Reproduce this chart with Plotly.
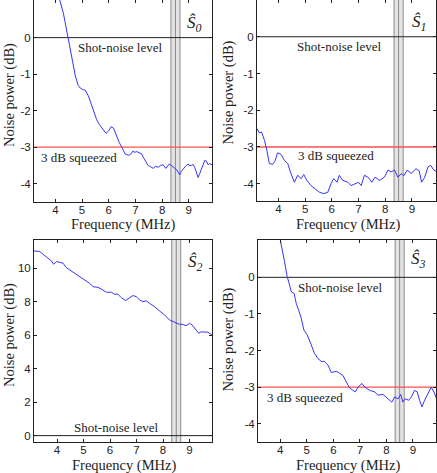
import plotly.graph_objects as go

# ---------------- data ----------------
s0_freq = [4.05, 4.16, 4.3, 4.42, 4.5, 4.6, 4.75, 4.85, 4.93, 5.02, 5.12, 5.24, 5.35, 5.45, 5.55, 5.65,
           5.78, 5.9, 6.0, 6.09, 6.18, 6.25, 6.32, 6.4, 6.49, 6.61, 6.74, 6.82, 6.9, 6.98, 7.05, 7.14,
           7.23, 7.29, 7.38, 7.48, 7.58, 7.67, 7.76, 7.85, 7.95, 8.04, 8.14, 8.21, 8.27, 8.35, 8.41,
           8.48, 8.54, 8.6, 8.66, 8.72, 8.79, 8.88, 8.97, 9.04, 9.1, 9.16, 9.22, 9.3, 9.35, 9.41, 9.47,
           9.55, 9.6, 9.66, 9.72, 9.78, 9.87]
s0_power = [1.6, 1.04, 0.67, 0.2, -0.05, -0.4, -1.05, -1.3, -1.38, -1.42, -1.44, -1.6, -1.85, -2.05,
            -2.25, -2.38, -2.5, -2.62, -2.55, -2.44, -2.48, -2.62, -2.76, -2.88, -3.0, -3.18, -3.22,
            -3.2, -3.11, -3.14, -3.12, -3.15, -3.18, -3.27, -3.38, -3.5, -3.54, -3.58, -3.52, -3.55,
            -3.5, -3.48, -3.58, -3.52, -3.46, -3.5, -3.55, -3.58, -3.61, -3.68, -3.76, -3.66, -3.59,
            -3.52, -3.46, -3.5, -3.5, -3.47, -3.55, -3.7, -3.83, -3.72, -3.61, -3.45, -3.36, -3.38,
            -3.48, -3.45, -3.48]

s1_freq = [3.2, 3.29, 3.37, 3.48, 3.57, 3.66, 3.79, 3.87, 3.97, 4.1, 4.22, 4.35, 4.45, 4.6, 4.72,
           4.85, 4.95, 5.07, 5.22, 5.41, 5.53, 5.7, 5.85, 5.97, 6.07, 6.2, 6.28, 6.41, 6.6, 6.72,
           6.85, 7.0, 7.1, 7.22, 7.35, 7.5, 7.62, 7.79, 7.97, 8.1, 8.22, 8.35, 8.47, 8.6, 8.7, 8.82,
           8.97, 9.15, 9.27, 9.36, 9.48, 9.6, 9.7, 9.82, 9.9]
s1_power = [-2.5, -2.62, -2.59, -2.82, -3.09, -3.45, -3.47, -3.39, -3.16, -3.2, -3.36, -3.45, -3.68,
            -3.96, -3.77, -3.86, -3.75, -3.91, -4.05, -4.16, -4.23, -4.27, -4.23, -4.0, -3.86, -3.96,
            -3.77, -3.91, -3.96, -4.05, -4.0, -3.96, -4.05, -3.77, -3.82, -3.96, -3.82, -3.91, -3.82,
            -3.63, -3.68, -3.63, -3.82, -3.73, -3.78, -3.63, -3.72, -3.59, -3.65, -3.96, -3.82, -3.54,
            -3.5, -3.63, -3.66]

s2_freq = [3.12, 3.28, 3.35, 3.5, 3.66, 3.79, 3.87, 3.97, 4.1, 4.23, 4.35, 4.48, 4.67, 4.85, 5.04,
           5.23, 5.36, 5.55, 5.67, 5.86, 6.05, 6.17, 6.3, 6.42, 6.59, 6.74, 6.86, 6.99, 7.12, 7.24,
           7.37, 7.49, 7.68, 7.87, 8.06, 8.25, 8.43, 8.62, 8.75, 8.87, 9.0, 9.1, 9.25, 9.35, 9.44,
           9.57, 9.69, 9.84]
s2_power = [11.04, 11.04, 11.0, 10.8, 10.6, 10.44, 10.24, 10.4, 10.36, 10.3, 10.04, 9.9, 9.7, 9.5,
            9.3, 9.1, 8.9, 8.86, 8.76, 8.57, 8.57, 8.45, 8.45, 8.25, 8.07, 8.21, 8.37, 8.31, 8.11,
            8.01, 8.05, 7.91, 7.71, 7.45, 7.21, 6.91, 6.77, 6.65, 6.65, 6.57, 6.71, 6.61, 6.31, 6.12,
            6.2, 6.2, 6.18, 6.02]

s3_freq = [3.95, 4.0, 4.16, 4.26, 4.35, 4.41, 4.52, 4.6, 4.69, 4.79, 4.89, 5.02, 5.17, 5.29, 5.42,
           5.57, 5.65, 5.8, 5.92, 6.11, 6.2, 6.36, 6.49, 6.61, 6.74, 6.83, 6.93, 7.08, 7.18, 7.37,
           7.56, 7.68, 7.87, 8.0, 8.12, 8.21, 8.31, 8.44, 8.54, 8.62, 8.71, 8.84, 8.94, 9.06, 9.16,
           9.25, 9.34, 9.44, 9.57, 9.69, 9.79, 9.88]
s3_power = [1.5, 1.02, 0.43, 0.02, -0.21, -0.39, -0.44, -0.71, -0.89, -1.12, -1.44, -1.58, -1.85,
            -2.08, -2.22, -2.31, -2.29, -2.4, -2.6, -2.57, -2.6, -2.68, -2.86, -3.02, -3.09, -3.13,
            -3.0, -2.9, -3.0, -3.09, -3.13, -3.22, -3.2, -3.27, -3.36, -3.41, -3.27, -3.32, -3.2,
            -3.41, -3.32, -3.36, -3.27, -3.09, -3.13, -3.36, -3.54, -3.36, -3.18, -3.0, -3.13, -3.3]

x_ticks = [4, 5, 6, 7, 8, 9]
x_ticktext = ["4", "5", "6", "7", "8", "9"]
y_ticks_sq = [-4, -3, -2, -1, 0]
y_ticktext_sq = ["-4", "-3", "-2", "-1", "0"]
y_ticks_s2 = [0, 2, 4, 6, 8, 10]
y_ticktext_s2 = ["0", "2", "4", "6", "8", "10"]

band_lo, band_mid, band_hi = 8.33, 8.5, 8.67
shot_noise_level = 0
squeeze_level = -3

panel_labels = ["<i>Ŝ<sub>0</sub></i>", "<i>Ŝ<sub>1</sub></i>", "<i>Ŝ<sub>2</sub></i>", "<i>Ŝ<sub>3</sub></i>"]

# ---------------- layout ----------------
W, H = 437, 473
SERIF = "Liberation Serif"
SANS = "Liberation Sans"
BLUE = "#3434ff"

panels = [
    dict(f=s0_freq, p=s0_power, xd=[34, 212], yd=[0, 202], xr=[3.2, 9.87], yr=[-4.5, 1.03],
         yt=y_ticks_sq, ytt=y_ticktext_sq, squeeze=True,
         shot_pos=(6.43, -0.27), sq_pos=(4.9, -3.28), lab=(9.22, 0.36)),
    dict(f=s1_freq, p=s1_power, xd=[257, 436], yd=[0, 201], xr=[3.2, 9.9], yr=[-4.47, 1.0],
         yt=y_ticks_sq, ytt=y_ticktext_sq, squeeze=True,
         shot_pos=(6.3, -0.27), sq_pos=(6.15, -3.24), lab=(9.25, 0.38)),
    dict(f=s2_freq, p=s2_power, xd=[34, 212], yd=[240, 442], xr=[3.13, 9.85], yr=[-0.38, 11.69],
         yt=y_ticks_s2, ytt=y_ticktext_s2, squeeze=False,
         shot_pos=(6.23, 0.5), sq_pos=None, lab=(9.23, 10.3)),
    dict(f=s3_freq, p=s3_power, xd=[258, 436], yd=[240, 442], xr=[3.16, 9.87], yr=[-4.5, 1.02],
         yt=y_ticks_sq, ytt=y_ticktext_sq, squeeze=True,
         shot_pos=(6.26, -0.27), sq_pos=(4.95, -3.29), lab=(9.2, 0.46)),
]

fig = go.Figure()
shapes = []
annotations = []
layout = {}

for i, pn in enumerate(panels):
    n = "" if i == 0 else str(i + 1)
    xa, ya = "x" + n, "y" + n
    fig.add_trace(go.Scatter(x=pn["f"], y=pn["p"], mode="lines", xaxis=xa, yaxis=ya,
                             line=dict(color=BLUE, width=1), showlegend=False, hoverinfo="skip"))
    axis_common = dict(showline=True, linecolor="#222", linewidth=1, mirror="ticks", ticks="inside",
                       ticklen=3, tickcolor="#222", showgrid=False, zeroline=False,
                       tickfont=dict(family=SANS, size=11.5, color="#222"), tickmode="array")
    layout["xaxis" + n] = dict(axis_common, domain=[pn["xd"][0] / W, pn["xd"][1] / W], range=pn["xr"],
                               anchor=ya, tickvals=x_ticks, ticktext=x_ticktext, ticklabelstandoff=-3)
    layout["yaxis" + n] = dict(axis_common, domain=[1 - pn["yd"][1] / H, 1 - pn["yd"][0] / H],
                               range=pn["yr"], anchor=xa, tickvals=pn["yt"], ticktext=pn["ytt"])
    # band
    shapes.append(dict(type="rect", xref=xa, yref=ya + " domain", x0=band_lo, x1=band_hi, y0=0, y1=1,
                       fillcolor="#e4e4e4", line=dict(width=0), layer="below"))
    for bx in (band_lo, band_mid, band_hi):
        shapes.append(dict(type="line", xref=xa, yref=ya + " domain", x0=bx, x1=bx, y0=0, y1=1,
                           line=dict(color="#8a8a8a", width=1), layer="below"))
    shapes.append(dict(type="line", xref=xa + " domain", yref=ya, x0=0, x1=1, y0=shot_noise_level,
                       y1=shot_noise_level, line=dict(color="#222", width=1), layer="below"))
    if pn["squeeze"]:
        shapes.append(dict(type="line", xref=xa + " domain", yref=ya, x0=0, x1=1, y0=squeeze_level,
                           y1=squeeze_level, line=dict(color="#ff5050", width=1.3), layer="below"))
        sx, sy = pn["sq_pos"]
        annotations.append(dict(x=sx, y=sy, xref=xa, yref=ya, text="3 dB squeezed", showarrow=False,
                                font=dict(family=SERIF, size=13, color="#222"),
                                xanchor="center", yanchor="middle"))
    tx, ty = pn["shot_pos"]
    annotations.append(dict(x=tx, y=ty, xref=xa, yref=ya, text="Shot-noise level", showarrow=False,
                            font=dict(family=SERIF, size=13, color="#222"),
                            xanchor="center", yanchor="middle"))
    lx, ly = pn["lab"]
    annotations.append(dict(x=lx, y=ly, xref=xa, yref=ya, text=panel_labels[i], showarrow=False,
                            font=dict(family=SERIF, size=17, color="#222"),
                            xanchor="center", yanchor="middle"))

# axis titles
xt_pos = [(123, 224), (347.7, 224), (124, 465), (348, 465)]
yt_pos = [(9, 95), (227.5, 93), (9, 335), (227.5, 340)]
for (px, py) in xt_pos:
    annotations.append(dict(x=px / W, y=1 - py / H, xref="paper", yref="paper", text="Frequency (MHz)",
                            showarrow=False, font=dict(family=SERIF, size=14.5, color="#222"),
                            xanchor="center", yanchor="middle"))
for (px, py) in yt_pos:
    annotations.append(dict(x=px / W, y=1 - py / H, xref="paper", yref="paper", text="Noise power (dB)",
                            showarrow=False, textangle=-90, font=dict(family=SERIF, size=14.5, color="#222"),
                            xanchor="center", yanchor="middle"))

fig.update_layout(width=W, height=H, margin=dict(l=0, r=0, t=0, b=0), paper_bgcolor="white",
                  plot_bgcolor="white", shapes=shapes, annotations=annotations, **layout)

fig.write_html("out.html", config={"displayModeBar": False},
               post_script="document.body.style.margin='0';document.body.style.padding='0';"
                           "document.body.style.overflow='hidden';")
